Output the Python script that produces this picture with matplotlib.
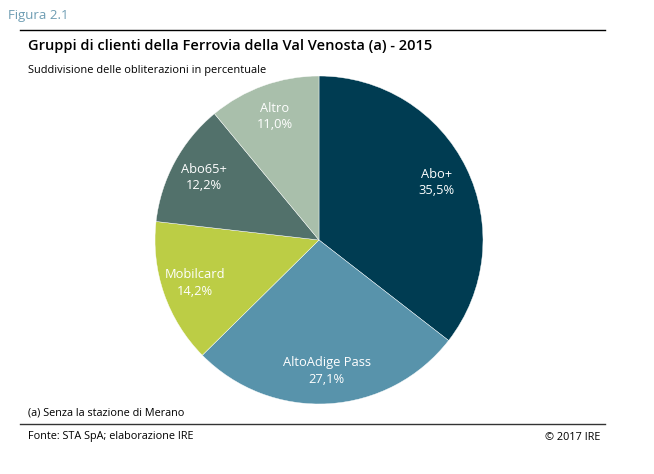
import matplotlib

matplotlib.use("Agg")
import matplotlib.pyplot as plt
from matplotlib.lines import Line2D

plt.rcParams["font.family"] = ["Open Sans", "DejaVu Sans"]

# --- data ------------------------------------------------------------------ #
categories = ["Abo+", "AltoAdige Pass", "Mobilcard", "Abo65+", "Altro"]
shares = [35.5, 27.1, 14.2, 12.2, 11.0]
share_labels = ["35,5%", "27,1%", "14,2%", "12,2%", "11,0%"]
colors = ["#003c52", "#5893ab", "#bccd45", "#52716b", "#a9bfab"]

fig = plt.figure(figsize=(6.54, 4.74), dpi=100)

# header / footer text
fig.text(8 / 654, 1 - 15 / 474, "Figura 2.1", color="#6e9db3", fontsize=9.5,
         va="center", ha="left")
fig.add_artist(Line2D([20 / 654, 605 / 654], [1 - 30 / 474] * 2,
                      color="black", lw=1.0, transform=fig.transFigure))
fig.text(28 / 654, 1 - 46 / 474,
         "Gruppi di clienti della Ferrovia della Val Venosta (a) - 2015",
         fontsize=10.5, fontweight="semibold", va="center", ha="left")
fig.text(28 / 654, 1 - 70 / 474, "Suddivisione delle obliterazioni in percentuale",
         fontsize=7.9, va="center", ha="left")
fig.text(28 / 654, 1 - 413 / 474, "(a) Senza la stazione di Merano",
         fontsize=7.8, va="center", ha="left")
fig.add_artist(Line2D([20 / 654, 605 / 654], [1 - 424 / 474] * 2,
                      color="#333333", lw=1.0, transform=fig.transFigure))
fig.text(28 / 654, 1 - 437 / 474, "Fonte: STA SpA; elaborazione IRE",
         fontsize=7.8, va="center", ha="left")
fig.text(600 / 654, 1 - 437 / 474, "\u00a9 2017 IRE",
         fontsize=7.8, va="center", ha="right")

# --- pie ------------------------------------------------------------------- #
ax = fig.add_axes([155 / 654, 70 / 474, 328 / 654, 328 / 474])
labels = [f"{c}\n{p}" for c, p in zip(categories, share_labels)]
wedges, texts = ax.pie(shares, colors=colors, startangle=90, counterclock=False,
                       labels=labels, labeldistance=0.8,
                       wedgeprops=dict(edgecolor="white", linewidth=0.3),
                       textprops=dict(color="white", fontsize=9.3,
                                      ha="center", va="center",
                                      linespacing=1.35))
ax.set_xlim(-1, 1)
ax.set_ylim(-1, 1)
ax.set_aspect("equal")
ax.axis("off")

fig.savefig("out.png", dpi=100)
